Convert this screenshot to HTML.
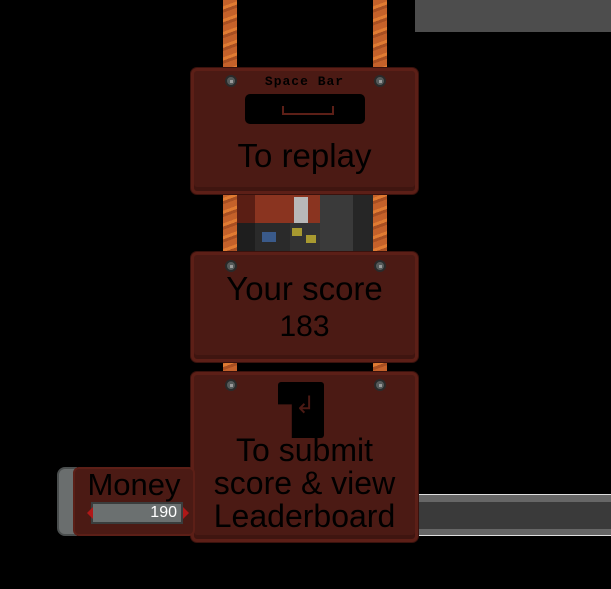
<!DOCTYPE html>
<html><head><meta charset="utf-8"><style>
*{margin:0;padding:0;box-sizing:border-box}
body{width:611px;height:589px;background:#000;position:relative;overflow:hidden;font-family:"Liberation Sans",sans-serif}
.a{position:absolute}
.rope{background:repeating-linear-gradient(160deg,#c4612a 0 6px,#e07b32 6px 9px,#a84f22 9px 12px)}
.panel{background:#4b1a14;border:3px solid #5c1f17;border-radius:6px;box-shadow:inset 0 -4px 0 #3f1510, 0 0 0 1px #3a120d}
.bolt{width:12px;height:12px;border-radius:50%;background:#555a5a;border:2px solid #2a2a2a}
.bolt::after{content:"";position:absolute;left:3px;top:3px;width:3px;height:3px;background:#9a9a9a}
.t{position:absolute;left:0;width:100%;text-align:center;color:#000;white-space:nowrap}
</style></head><body>
<div class="a" style="left:415px;top:0;width:196px;height:32px;background:#4d4d4d"></div>
<div class="a" style="left:418px;top:494px;width:193px;height:42px;background:#666;border-top:1px solid #ddd;border-bottom:1px solid #ddd"></div>
<div class="a" style="left:418px;top:502px;width:193px;height:27px;background:#3a3a3a"></div>

<div class="a rope" style="left:223px;top:0;width:14px;height:380px"></div>
<div class="a rope" style="left:373px;top:0;width:14px;height:380px"></div>

<!-- tiles -->
<div class="a" style="left:237px;top:193px;width:18px;height:30px;background:#5a1e14"></div>
<div class="a" style="left:255px;top:193px;width:65px;height:30px;background:#8a3420"></div>
<div class="a" style="left:320px;top:193px;width:33px;height:30px;background:#3a3a3a"></div>
<div class="a" style="left:353px;top:193px;width:20px;height:30px;background:#262626"></div>
<div class="a" style="left:237px;top:223px;width:18px;height:29px;background:#1e1e1e"></div>
<div class="a" style="left:255px;top:223px;width:35px;height:29px;background:#2a2a2a"></div>
<div class="a" style="left:290px;top:223px;width:30px;height:29px;background:#333"></div>
<div class="a" style="left:320px;top:223px;width:33px;height:29px;background:#3a3a3a"></div>
<div class="a" style="left:353px;top:223px;width:20px;height:29px;background:#262626"></div>
<div class="a" style="left:262px;top:232px;width:14px;height:10px;background:#3a5a8a"></div>
<div class="a" style="left:292px;top:228px;width:10px;height:8px;background:#a89a30"></div>
<div class="a" style="left:306px;top:235px;width:10px;height:8px;background:#a89a30"></div>
<div class="a" style="left:294px;top:197px;width:14px;height:26px;background:#b8b8b8"></div>

<!-- panel 1 -->
<div class="a panel" style="left:191px;top:68px;width:227px;height:126px">
 <div class="a bolt" style="left:31px;top:4px"></div>
 <div class="a bolt" style="left:180px;top:4px"></div>
 <div class="t" style="top:3px;font-size:13px;font-weight:bold;font-family:'Liberation Mono',monospace;letter-spacing:1px">Space Bar</div>
 <div class="a" style="left:51px;top:23px;width:120px;height:30px;background:#000;border-radius:5px"></div>
 <div class="a" style="left:88px;top:35px;width:52px;height:9px;border:2px solid #5c1f17;border-top:none"></div>
 <div class="t" style="top:66px;font-size:33px">To replay</div>
</div>

<!-- panel 2 -->
<div class="a panel" style="left:191px;top:252px;width:227px;height:110px">
 <div class="a bolt" style="left:31px;top:5px"></div>
 <div class="a bolt" style="left:180px;top:5px"></div>
 <div class="t" style="top:15px;font-size:33px">Your score</div>
 <div class="t" style="top:55px;font-size:30px">183</div>
</div>

<!-- panel 3 -->
<div class="a panel" style="left:191px;top:372px;width:227px;height:170px">
 <div class="a bolt" style="left:31px;top:4px"></div>
 <div class="a bolt" style="left:180px;top:4px"></div>
 <div class="a" style="left:84px;top:7px;width:46px;height:56px;background:#000;border-radius:3px;clip-path:polygon(0 0,100% 0,100% 100%,30% 100%,30% 40%,0 40%)"></div>
 <div class="a" style="left:100px;top:16px;width:22px;height:30px;color:#4b1a14;font-size:24px;line-height:30px;text-align:center">↲</div>
 <div class="t" style="top:59px;font-size:32px;line-height:33px">To submit<br>score &amp; view<br>Leaderboard</div>
</div>

<!-- money -->
<div class="a" style="left:57px;top:467px;width:20px;height:69px;background:#6a6e6e;border:2px solid #4a4e4e;border-radius:8px 0 0 8px"></div>
<div class="a" style="left:73px;top:467px;width:122px;height:69px;background:#4b1a14;border:2px solid #5c1f17;border-radius:6px"></div>
<div class="a" style="left:73px;top:467px;width:122px;text-align:center;font-size:31px;color:#000">Money</div>
<div class="a" style="left:91px;top:502px;width:92px;height:22px;background:#6b7070;border:2px solid #3a3d3d"></div>
<div class="a" style="left:91px;top:502px;width:86px;height:22px;text-align:right;font-size:16px;line-height:22px;color:#fff">190</div>
<div class="a" style="left:81px;top:507px;width:0;height:0;border:6px solid transparent;border-right-color:#b01818"></div>
<div class="a" style="left:183px;top:507px;width:0;height:0;border:6px solid transparent;border-left-color:#b01818"></div>
</body></html>
